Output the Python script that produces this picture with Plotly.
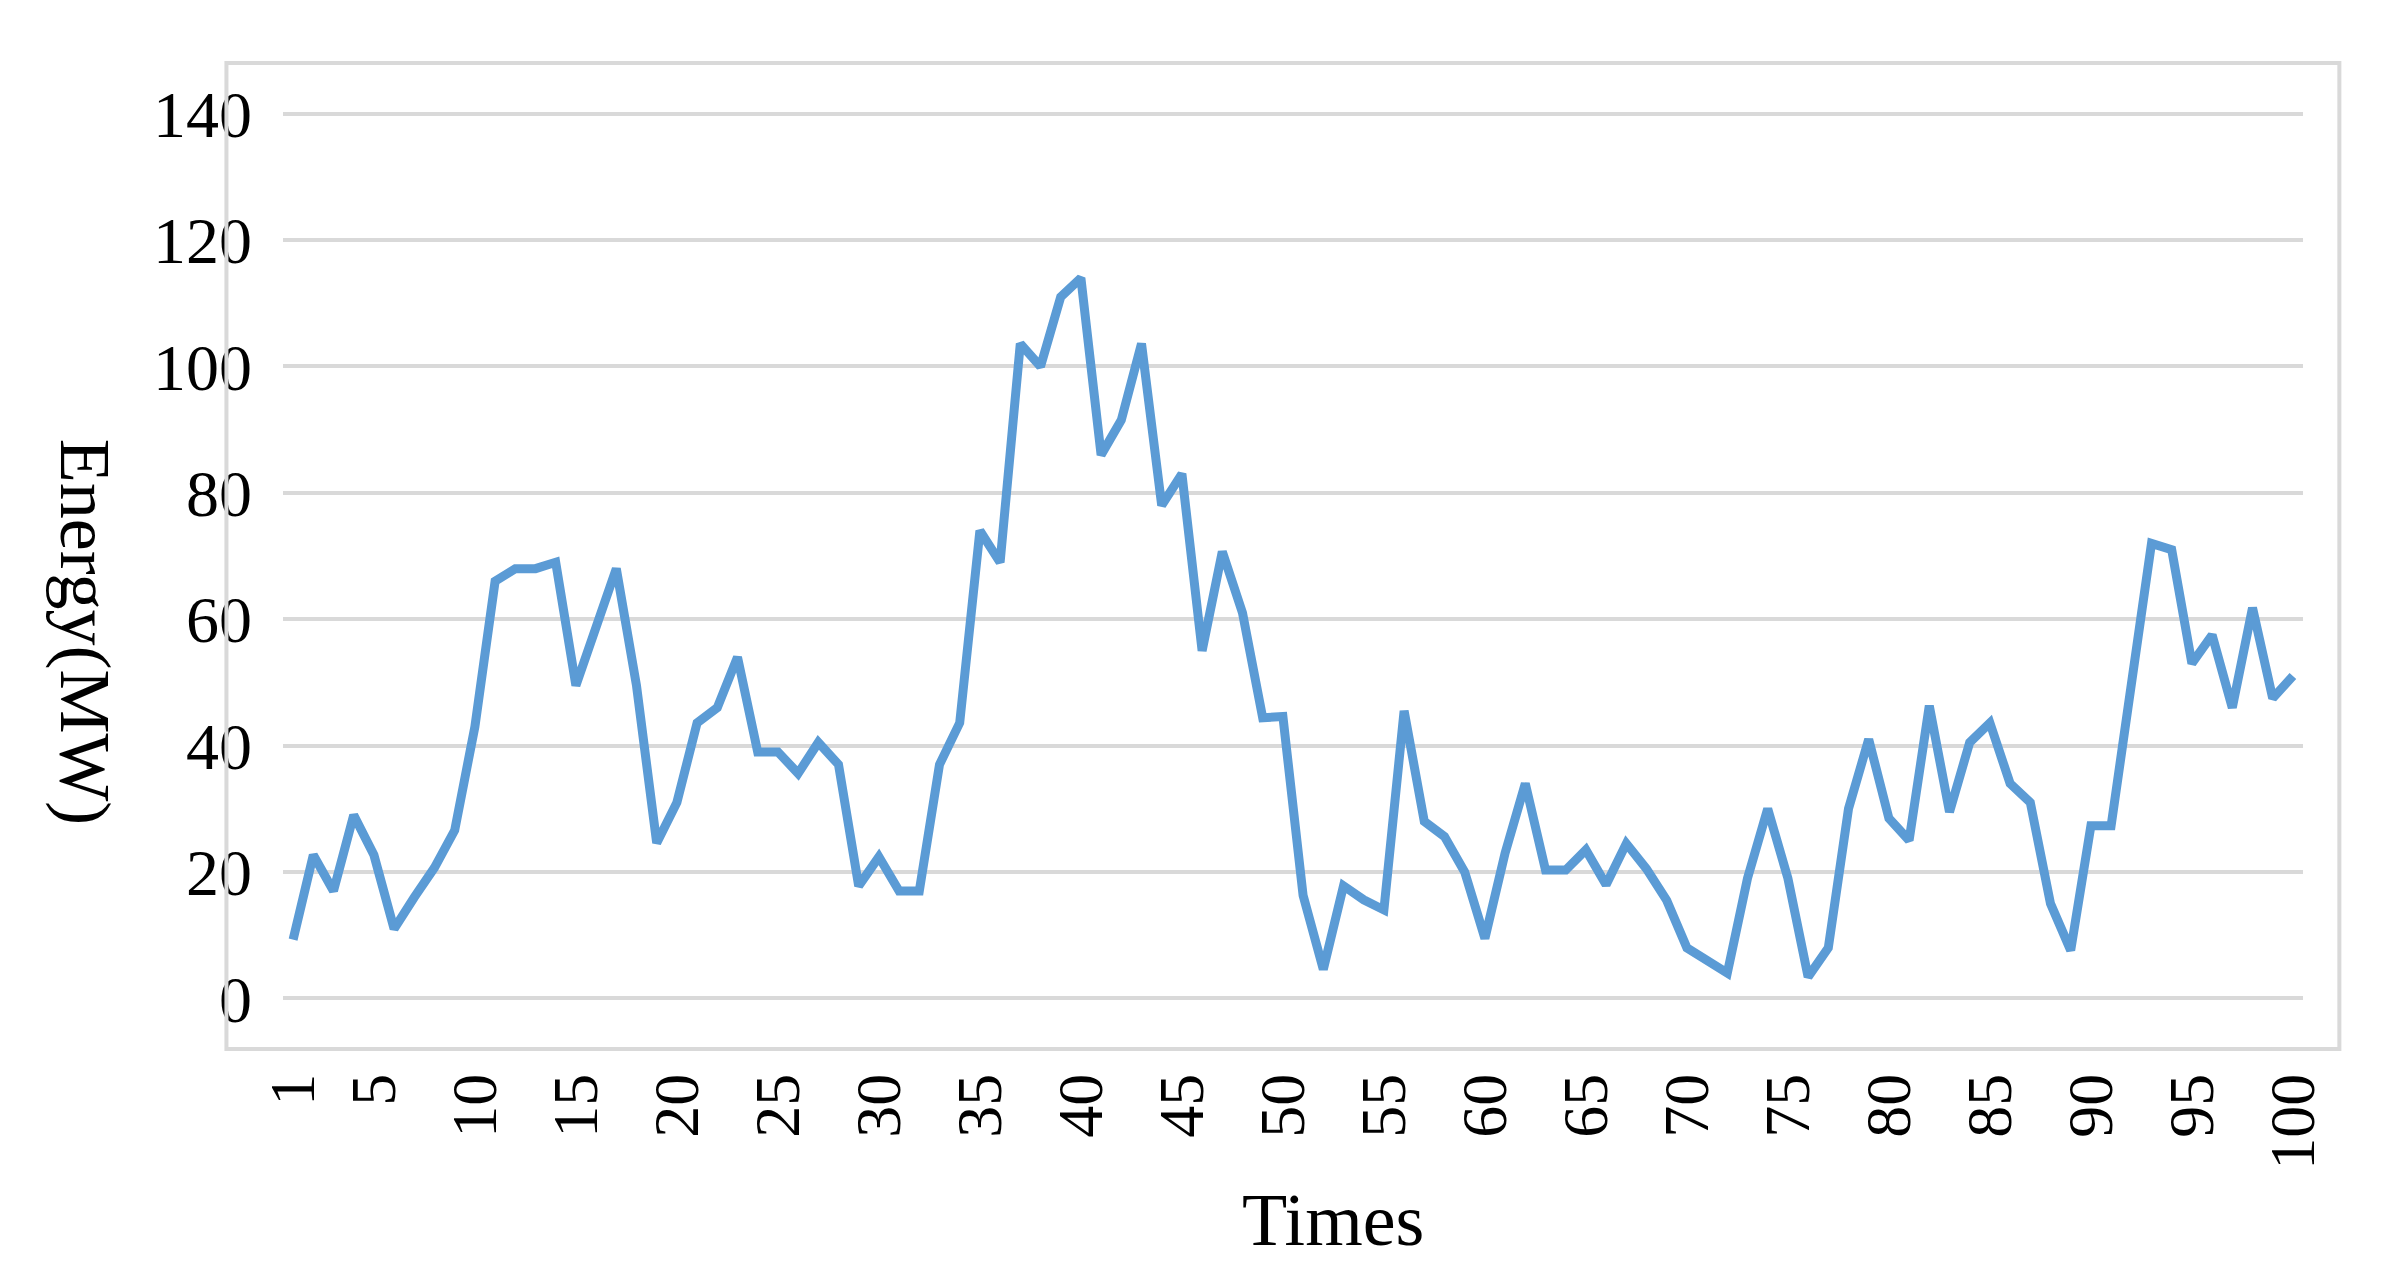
import plotly.graph_objects as go

times = list(range(1, 101))
energy = [
    9.3, 22.7, 17, 29, 22.7, 11, 16, 20.7, 26.6, 43,
    66, 68, 68, 69, 49.5, 59, 68, 49.5, 24.6, 31,
    43.6, 46, 54, 39, 39, 35.6, 40.5, 37, 17.8, 22.4,
    17, 17, 37, 43.6, 74, 69, 103.6, 100, 111, 114,
    86, 91.5, 103.6, 78, 83, 55, 70.7, 61, 44.4, 44.6,
    16.3, 4.6, 17.8, 15.6, 14, 45.5, 28, 25.6, 20, 9.5,
    23, 34, 20.3, 20.3, 23.5, 18, 24.5, 20.5, 15.5, 8,
    6, 4, 19, 30, 19, 3.4, 8, 30, 41, 28.5,
    25, 46.3, 29.5, 40.5, 43.6, 34, 31, 15, 7.6, 27.3,
    27.3, 50, 72, 71, 53, 57.5, 46, 61.8, 47.5, 51,
]
x_ticks = [1] + list(range(5, 101, 5))
y_ticks = list(range(0, 141, 20))

font = "Liberation Serif, Times New Roman, serif"

fig = go.Figure()
fig.add_trace(go.Scatter(
    x=times, y=energy, mode="lines",
    line=dict(color="#5B9BD5", width=9),
))

fig.update_layout(
    width=2400, height=1270,
    margin=dict(l=275, r=105, t=74, b=248),
    plot_bgcolor="white", paper_bgcolor="white",
    showlegend=False,
    font=dict(family=font, size=64, color="black"),
)
fig.update_xaxes(
    range=[0.5, 100.5], tickvals=x_ticks, tickangle=-90,
    showgrid=False, zeroline=False, showline=False, ticks="",
    ticklabelstandoff=30, tickfont=dict(size=64),
)
fig.update_yaxes(
    range=[-5, 145], tickvals=y_ticks,
    showgrid=True, gridcolor="#D9D9D9", gridwidth=4,
    zeroline=False, showline=False, ticks="", ticklabelstandoff=30,
    tickfont=dict(size=66),
)

# outer chart border
fig.add_shape(type="rect", xref="paper", yref="paper",
              x0=-0.028, x1=1.018, y0=-0.02, y1=1.02,
              line=dict(color="#D9D9D9", width=4))

fig.add_annotation(text="Energy(MW)", xref="paper", yref="paper",
                   x=-0.098, y=0.42, textangle=90, showarrow=False,
                   font=dict(size=72), xanchor="center", yanchor="middle")
fig.add_annotation(text="Times", xref="paper", yref="paper",
                   x=0.52, y=-0.2, showarrow=False,
                   font=dict(size=74), xanchor="center", yanchor="middle")

fig.write_html("out.html")
